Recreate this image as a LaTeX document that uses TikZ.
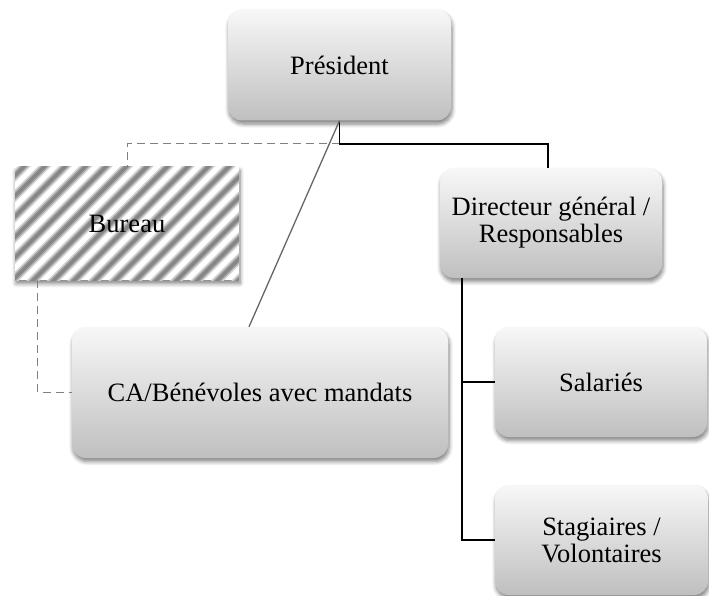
\documentclass[tikz,border=0pt]{standalone}
\usepackage{fontspec}
\setmainfont{Liberation Serif}
\usetikzlibrary{shadows.blur}
\tikzset{
  orgbox/.style={rounded corners=14pt, top color=white!97!black, bottom color=white!75!black,
    draw=none, align=center, inner sep=2pt,
    blur shadow={shadow xshift=1pt, shadow yshift=-3.5pt, shadow blur radius=4pt, shadow blur steps=6, shadow opacity=50},
    font=\fontsize{26.5}{27}\selectfont},
  hatchbox/.style={fill=white, draw=none, align=center,
    blur shadow={shadow xshift=1pt, shadow yshift=-3.5pt, shadow blur radius=4pt, shadow blur steps=6, shadow opacity=50},
    font=\fontsize{26.5}{27}\selectfont,
    path picture={
      \foreach \k in {-15,...,15}{
        \draw[gray!35, line width=9pt] ([xshift=\k*20.5pt+4pt]path picture bounding box.center) ++(-130pt,-130pt) -- ++(260pt,260pt);
        \draw[gray!70, line width=6pt] ([xshift=\k*20.5pt+4pt]path picture bounding box.center) ++(-130pt,-130pt) -- ++(260pt,260pt);
        \draw[gray!95, line width=3.5pt] ([xshift=\k*20.5pt+4pt]path picture bounding box.center) ++(-130pt,-130pt) -- ++(260pt,260pt);
      }}},
  solidlink/.style={black, line width=1.5pt},
  dashlink/.style={gray, line width=1pt, dash pattern=on 8pt off 5pt},
  graylink/.style={black!60, line width=1.3pt}
}
\begin{document}
\begin{tikzpicture}[x=1pt, y=-1pt]
\useasboundingbox (0,0) rectangle (709,596);
\node[orgbox, minimum width=223pt, minimum height=111pt] (pres) at (339.5,65) {Président};
\node[hatchbox, minimum width=224pt, minimum height=113pt] (bur) at (127,223.5) {Bureau};
\node[orgbox, minimum width=376pt, minimum height=131pt] (ca) at (260,392.5) {CA/Bénévoles avec mandats};
\node[orgbox, minimum width=222pt, minimum height=110pt] (dir) at (551,223) {Directeur général /\\Responsables};
\node[orgbox, minimum width=212pt, minimum height=110pt] (sal) at (601,382) {Salariés};
\node[orgbox, minimum width=213pt, minimum height=110pt] (sta) at (601.5,540) {Stagiaires /\\Volontaires};
\coordinate (j) at (339.5,144);
\draw[dashlink] (j) -| (bur.north);
\draw[solidlink] (pres.south) -- (j) -| ([xshift=-3pt]dir.north);
\draw[graylink] (pres.south) -- ([xshift=-11pt]ca.north);
\draw[dashlink] ([xshift=23pt]bur.south west) |- (ca.west);
\draw[solidlink] ([xshift=22pt]dir.south west) |- (sal.west);
\draw[solidlink] ([xshift=22pt]dir.south west) |- (sta.west);
\end{tikzpicture}
\end{document}
